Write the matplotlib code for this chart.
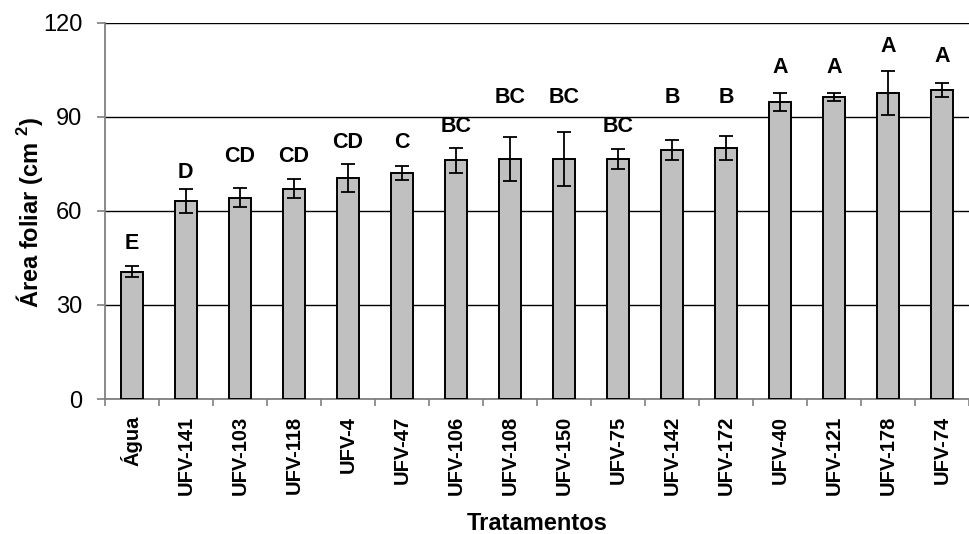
import numpy as np
import matplotlib
matplotlib.use('Agg')
import matplotlib.pyplot as plt
from matplotlib.ticker import FixedLocator

plt.rcParams['font.family'] = ['Liberation Sans', 'DejaVu Sans']
plt.rcParams['mathtext.fontset'] = 'custom'
plt.rcParams['mathtext.rm'] = 'Liberation Sans'
plt.rcParams['mathtext.bf'] = 'Liberation Sans:bold'

# Data
tratamentos = ['Água', 'UFV-141', 'UFV-103', 'UFV-118', 'UFV-4', 'UFV-47', 'UFV-106', 'UFV-108',
               'UFV-150', 'UFV-75', 'UFV-142', 'UFV-172', 'UFV-40', 'UFV-121', 'UFV-178', 'UFV-74']
area = [40.6, 63.2, 64.3, 67.1, 70.4, 72.2, 76.2, 76.6, 76.6, 76.6, 79.5, 80.1, 94.7, 96.4, 97.6, 98.7]
erro = [1.7, 3.9, 3.0, 3.1, 4.5, 2.2, 4.0, 7.1, 8.5, 3.2, 3.1, 3.9, 2.8, 1.2, 7.1, 2.3]
letras = ['E', 'D', 'CD', 'CD', 'CD', 'C', 'BC', 'BC', 'BC', 'BC', 'B', 'B', 'A', 'A', 'A', 'A']
letra_y = [46.3, 68.9, 74.0, 74.0, 78.5, 78.5, 83.6, 92.9, 92.9, 83.6, 92.9, 92.9, 102.5, 102.5, 109.2, 106.0]

fig = plt.figure(figsize=(9.7, 5.34), dpi=100)
ax = fig.add_axes([0.108, 0.2528, 0.891, 0.7042])

x = np.arange(len(tratamentos))
ax.bar(x, area, width=0.4, color='#C0C0C0', edgecolor='black', linewidth=1.4, zorder=3)
ax.errorbar(x, area, yerr=erro, fmt='none', ecolor='black', elinewidth=1.3,
            capsize=5.3, capthick=1.3, zorder=4)

# letras da comparacao de medias
for xi, lt, ly in zip(x, letras, letra_y):
    ax.text(xi, ly, lt, ha='center', va='bottom', fontsize=15.5, fontweight='bold')

ax.set_xlim(-0.5, len(tratamentos) - 0.5)
ax.set_ylim(0, 120)
ax.set_yticks([0, 30, 60, 90, 120])
ax.yaxis.grid(True, color='black', linewidth=1.0, zorder=0)
ax.axhline(120, color='#E6E6E6', linewidth=1.5, zorder=1)

ax.set_xticks(x)
ax.set_xticklabels(tratamentos, rotation=90, fontsize=14.5, fontweight='bold')
ax.xaxis.set_minor_locator(FixedLocator(np.arange(-0.5, len(tratamentos), 1.0)))
ax.tick_params(axis='x', which='major', length=0, pad=12)
ax.tick_params(axis='x', which='minor', length=5, color='#808080', width=1.2, direction='out')
ax.tick_params(axis='y', labelsize=17, length=6, color='#808080', width=1.2, pad=10)

for s in ['top', 'right']:
    ax.spines[s].set_visible(False)
for s in ['left', 'bottom']:
    ax.spines[s].set_color('#808080')
    ax.spines[s].set_linewidth(1.3)

ax.set_ylabel(r'Área foliar (cm $^{\mathbf{2}}$)', fontsize=17, fontweight='bold', va='center')
ax.yaxis.set_label_coords(-0.087, 0.495)
ax.set_xlabel('Tratamentos', fontsize=17, fontweight='bold', va='center')
ax.xaxis.set_label_coords(0.5, -0.33)

fig.savefig('out.png', dpi=100)
